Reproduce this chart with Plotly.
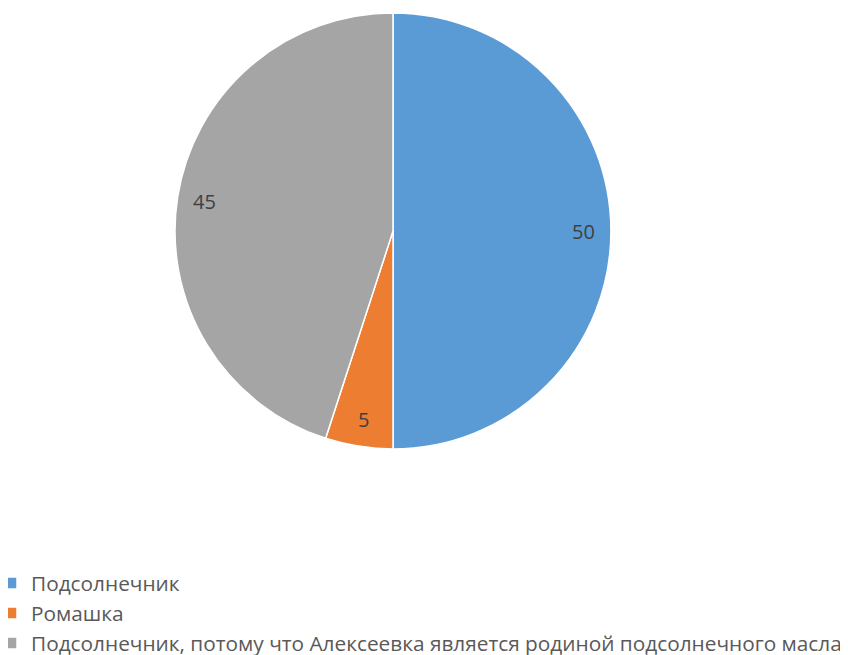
import math
import plotly.graph_objects as go

labels = ["Подсолнечник", "Ромашка",
          "Подсолнечник, потому что Алексеевка является родиной подсолнечного масла"]
values = [50, 5, 45]
colors = ["#5B9BD5", "#ED7D31", "#A5A5A5"]

W, H = 848, 655
# page body adds an 8px offset, so positions are set 8px up/left
cx, cy, R = 385, 223, 218

fig = go.Figure(go.Pie(
    labels=labels, values=values, sort=False, direction="clockwise", rotation=0,
    marker=dict(colors=colors, line=dict(color="white", width=1.5)),
    textinfo="none", hoverinfo="label+value",
    domain=dict(x=[(cx - R) / W, (cx + R) / W],
                y=[1 - (cy + R) / H, 1 - (cy - R) / H]),
))

total = sum(values)
cum = 0
for v in values:
    mid = (cum + v / 2) / total * 2 * math.pi
    cum += v
    r = 0.875 * R
    px = cx + r * math.sin(mid)
    py = cy - r * math.cos(mid)
    fig.add_annotation(x=px / W, y=1 - py / H, xref="paper", yref="paper",
                       xanchor="center", yanchor="middle",
                       text=str(v), showarrow=False,
                       font=dict(size=20, color="#404040", family="Open Sans"))

fig.update_layout(
    width=W, height=H, margin=dict(l=0, r=0, t=0, b=0, autoexpand=False),
    paper_bgcolor="white", plot_bgcolor="white",
    font=dict(family="Open Sans", color="#595959", size=20.8),
    legend=dict(x=-17 / W, xanchor="left", y=1 - 555 / H, yanchor="top",
                orientation="v", font=dict(size=20.8, color="#595959"),
                itemwidth=30),
)
fig.write_html("out.html")
